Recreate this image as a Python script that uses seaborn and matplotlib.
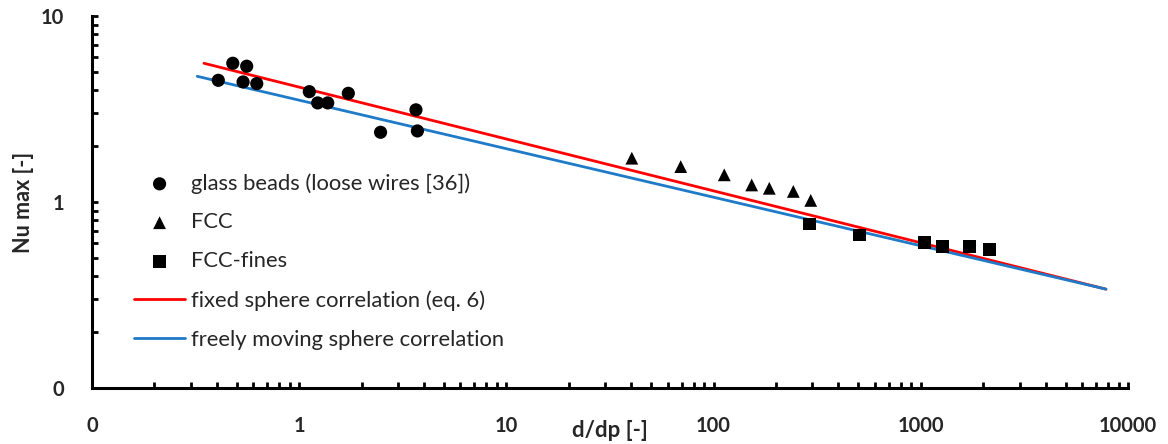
import matplotlib
matplotlib.use("Agg")
import matplotlib.pyplot as plt
import seaborn as sns
import pandas as pd
from matplotlib.ticker import FixedLocator, FixedFormatter, LogLocator, NullFormatter

# ---------------- data ----------------
glass_x = [0.407, 0.478, 0.558, 0.536, 0.624, 1.119, 1.228, 1.373, 1.726, 2.47, 3.66, 3.72]
glass_y = [4.51, 5.57, 5.37, 4.42, 4.33, 3.92, 3.41, 3.41, 3.84, 2.37, 3.13, 2.41]

fcc_x = [40.3, 69.4, 112.6, 152.7, 185.7, 242.5, 294.3]
fcc_y = [1.72, 1.55, 1.40, 1.235, 1.185, 1.14, 1.02]

fines_x = [289.6, 505, 1040, 1276, 1714, 2142]
fines_y = [0.762, 0.665, 0.604, 0.575, 0.575, 0.557]

fixed_x = [0.347, 7830]
fixed_y = [5.57, 0.34]

free_x = [0.322, 7830]
free_y = [4.74, 0.34]

x_ticks = [0.1, 1, 10, 100, 1000, 10000]
x_ticklabels = ["0", "1", "10", "100", "1000", "10000"]
y_ticks = [0.1, 1, 10]
y_ticklabels = ["0", "1", "10"]

labels = ["glass beads (loose wires [36])", "FCC", "FCC-fines",
          "fixed sphere correlation (eq. 6)", "freely moving sphere correlation"]

# ---------------- style ----------------
sns.set_style("ticks")
plt.rcParams["font.family"] = ["Lato", "DejaVu Sans"]

fig = plt.figure(figsize=(11.68, 4.44), dpi=100)
ax = fig.add_axes([92 / 1168, 1 - 388 / 444, (1128 - 92) / 1168, (388 - 16) / 444])

red = "#FF0000"
blue = "#1F7BC8"

df_glass = pd.DataFrame({"x": glass_x, "y": glass_y})
df_fcc = pd.DataFrame({"x": fcc_x, "y": fcc_y})
df_fines = pd.DataFrame({"x": fines_x, "y": fines_y})
df_fixed = pd.DataFrame({"x": fixed_x, "y": fixed_y})
df_free = pd.DataFrame({"x": free_x, "y": free_y})

sns.lineplot(data=df_fixed, x="x", y="y", ax=ax, color=red, lw=2.0, label=labels[3], zorder=2)
sns.lineplot(data=df_free, x="x", y="y", ax=ax, color=blue, lw=2.0, label=labels[4], zorder=2)
sns.scatterplot(data=df_glass, x="x", y="y", ax=ax, color="black", marker="o", s=90,
                edgecolor="none", label=labels[0], zorder=3)
sns.scatterplot(data=df_fcc, x="x", y="y", ax=ax, color="black", marker="^", s=85,
                edgecolor="none", label=labels[1], zorder=3)
sns.scatterplot(data=df_fines, x="x", y="y", ax=ax, color="black", marker="s", s=85,
                edgecolor="none", label=labels[2], zorder=3)

ax.set_xscale("log")
ax.set_yscale("log")
ax.set_xlim(0.1, 10000)
ax.set_ylim(0.1, 10)

ax.xaxis.set_major_locator(FixedLocator(x_ticks))
ax.xaxis.set_major_formatter(FixedFormatter(x_ticklabels))
ax.yaxis.set_major_locator(FixedLocator(y_ticks))
ax.yaxis.set_major_formatter(FixedFormatter(y_ticklabels))
ax.xaxis.set_minor_locator(LogLocator(base=10, subs=range(2, 10), numticks=20))
ax.yaxis.set_minor_locator(LogLocator(base=10, subs=range(2, 10), numticks=20))
ax.xaxis.set_minor_formatter(NullFormatter())
ax.yaxis.set_minor_formatter(NullFormatter())

for s in ["top", "right"]:
    ax.spines[s].set_visible(False)
for s in ["left", "bottom"]:
    ax.spines[s].set_linewidth(2.2)
    ax.spines[s].set_color("black")

ax.tick_params(axis="both", which="both", direction="in", length=4, width=2, color="black")
ax.tick_params(axis="x", which="major", pad=20, labelsize=14.5)
ax.tick_params(axis="y", which="major", pad=20, labelsize=14.5)
for t in ax.get_xticklabels() + ax.get_yticklabels():
    t.set_fontweight("bold")

ax.set_xlabel("d/dp [-]", fontsize=16, fontweight="bold")
ax.set_ylabel("Nu max [-]", fontsize=15.5, fontweight="bold")
ax.xaxis.set_label_coords(0.5, -(420 - 388) / 372)
ax.yaxis.set_label_coords(-(92 - 24) / 1036, 0.5)
ax.xaxis.label.set_va("top")
ax.yaxis.label.set_va("center")

handles, labs = ax.get_legend_handles_labels()
order = [labs.index(l) for l in labels]
leg = ax.legend([handles[i] for i in order], [labs[i] for i in order],
                loc="upper left", bbox_to_anchor=(134 / 1168, 1 - 173 / 444),
                bbox_transform=fig.transFigure, frameon=False, fontsize=15.8,
                borderpad=0, borderaxespad=0, handlelength=2.33, handletextpad=0.25,
                labelspacing=0.86, markerscale=1.0)

fig.savefig("out.png", dpi=100)
